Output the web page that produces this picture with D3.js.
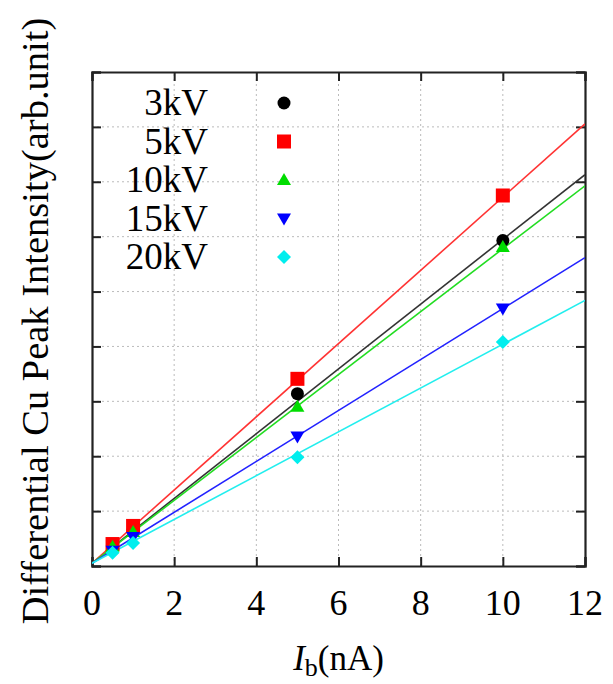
<!DOCTYPE html>
<html>
<head>
<meta charset="utf-8">
<script src="https://cdn.jsdelivr.net/npm/d3@7"></script>
<style>
  body { margin: 0; background: #fff; }
  text { font-family: "Liberation Serif", "DejaVu Serif", serif; fill: #000; }
</style>
</head>
<body>
<svg id="chart"></svg>
<script>
// beam current (nA) for each measurement
const currents = [0.5, 1, 5, 10];

// series names
const series = ["3kV", "5kV", "10kV", "15kV", "20kV"];

// measured intensities (arb. unit), one list per series
const v3kV  = [0.37, 0.66, 3.14, 5.93];
const v5kV  = [0.40, 0.73, 3.41, 6.75];
const v10kV = [0.35, 0.62, 2.90, 5.81];
const v15kV = [0.28, 0.53, 2.36, 4.69];
const v20kV = [0.24, 0.42, 1.98, 4.08];

// linear fit lines (slope, intercept) as drawn
const fitSlope     = [0.590, 0.667, 0.573, 0.464, 0.399];
const fitIntercept = [0.05, 0.05, 0.05, 0.05, 0.05];

const xTicks = [0, 2, 4, 6, 8, 10, 12];
const yTicks = [0, 1, 2, 3, 4, 5, 6, 7, 8, 9];

const values = [v3kV, v5kV, v10kV, v15kV, v20kV];
const colors = ["#000000", "#ff0000", "#00dd00", "#0000ff", "#00eeee"];
const lineColors = ["#333333", "#ff3333", "#22dd22", "#2222ff", "#22eeee"];
const shapes = ["circle", "square", "tri", "tridown", "diamond"];

const W = 613, H = 684;
const m = { left: 92, right: 28, top: 72, bottom: 118 };

const svg = d3.select("#chart").attr("width", W).attr("height", H);

let x = d3.scaleLinear().domain([0, 12]).range([m.left, W - m.right]);
let y = d3.scaleLinear().domain([0, 9]).range([H - m.bottom, m.top]);

// grid
let grid = svg.append("g");
grid.selectAll("line.gx")
    .data(xTicks.slice(1, -1))
    .enter().append("line")
    .attr("x1", d => x(d)).attr("x2", d => x(d))
    .attr("y1", y(0)).attr("y2", y(9))
    .attr("stroke", "#bbb").attr("stroke-width", 1).attr("stroke-dasharray", "2,3");
grid.selectAll("line.gy")
    .data(yTicks.slice(1, -1))
    .enter().append("line")
    .attr("x1", x(0)).attr("x2", x(12))
    .attr("y1", d => y(d)).attr("y2", d => y(d))
    .attr("stroke", "#bbb").attr("stroke-width", 1).attr("stroke-dasharray", "2,3");

// axes with inward ticks on all four sides
let tk = 9;
svg.append("g").attr("transform", `translate(0,${y(0)})`)
    .call(d3.axisBottom(x).tickValues(xTicks).tickSize(-tk).tickFormat(""));
svg.append("g").attr("transform", `translate(0,${y(9)})`)
    .call(d3.axisTop(x).tickValues(xTicks).tickSize(-tk).tickFormat(""));
svg.append("g").attr("transform", `translate(${x(0)},0)`)
    .call(d3.axisLeft(y).tickValues(yTicks).tickSize(-tk).tickFormat(""));
svg.append("g").attr("transform", `translate(${x(12)},0)`)
    .call(d3.axisRight(y).tickValues(yTicks).tickSize(-tk).tickFormat(""));
svg.selectAll(".domain").attr("stroke", "#222").attr("stroke-width", 2.2);
svg.selectAll(".tick line").attr("stroke", "#222").attr("stroke-width", 2);

// x tick labels
svg.append("g").selectAll("text")
    .data(xTicks)
    .enter().append("text")
    .attr("x", d => x(d)).attr("y", y(0) + 49)
    .attr("text-anchor", "middle")
    .style("font-size", "36px")
    .text(d => d);

// fit lines
let clip = svg.append("clipPath").attr("id", "clip").append("rect")
    .attr("x", x(0)).attr("y", y(9)).attr("width", x(12) - x(0)).attr("height", y(0) - y(9));

series.forEach((s, i) => {
  svg.append("line")
    .attr("clip-path", "url(#clip)")
    .attr("x1", x(0)).attr("y1", y(fitIntercept[i]))
    .attr("x2", x(12)).attr("y2", y(fitIntercept[i] + fitSlope[i] * 12))
    .attr("stroke", lineColors[i]).attr("stroke-width", 1.6);
});

function marker(g, shape, cx, cy, color) {
  if (shape === "circle") {
    g.append("circle").attr("cx", cx).attr("cy", cy).attr("r", 6.5).attr("fill", color);
  } else if (shape === "square") {
    g.append("rect").attr("x", cx - 7).attr("y", cy - 7).attr("width", 14).attr("height", 14).attr("fill", color);
  } else if (shape === "tri") {
    g.append("path").attr("d", `M${cx},${cy - 7}L${cx + 7},${cy + 5}L${cx - 7},${cy + 5}Z`).attr("fill", color);
  } else if (shape === "tridown") {
    g.append("path").attr("d", `M${cx},${cy + 7}L${cx + 7},${cy - 5}L${cx - 7},${cy - 5}Z`).attr("fill", color);
  } else {
    g.append("path").attr("d", `M${cx},${cy - 7}L${cx + 7},${cy}L${cx},${cy + 7}L${cx - 7},${cy}Z`).attr("fill", color);
  }
}

// data points, drawn so the later series sit on top
let pts = svg.append("g");
series.forEach((s, i) => {
  values[i].forEach((v, j) => marker(pts, shapes[i], x(currents[j]), y(v), colors[i]));
});

// legend
let leg = svg.append("g");
series.forEach((s, i) => {
  let ly = 103 + i * 38.5;
  leg.append("text")
    .attr("x", 208).attr("y", ly + 12)
    .attr("text-anchor", "end")
    .style("font-size", "37px")
    .text(s);
  marker(leg, shapes[i], 284, ly, colors[i]);
});

// axis titles
svg.append("text")
    .attr("transform", `translate(48,${(y(0) + y(9)) / 2 + 2}) rotate(-90)`)
    .attr("text-anchor", "middle")
    .style("font-size", "38.5px")
    .text("Differential Cu Peak Intensity(arb.unit)");

let xl = svg.append("text")
    .attr("x", (x(0) + x(12)) / 2).attr("y", 670)
    .attr("text-anchor", "middle")
    .style("font-size", "35px");
xl.append("tspan").style("font-style", "italic").text("I");
xl.append("tspan").attr("dy", 6).style("font-size", "26px").text("b");
xl.append("tspan").attr("dy", -6).text("(nA)");
</script>
</body>
</html>
